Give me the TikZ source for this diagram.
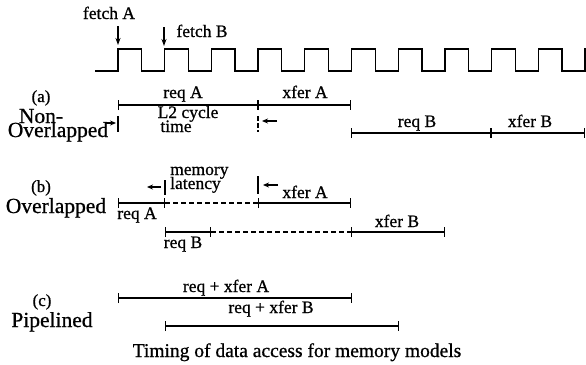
\documentclass[tikz,border=0pt]{standalone}
\usepackage{fontspec}
\setmainfont{Liberation Serif}[FakeBold=0.8]
\usetikzlibrary{arrows.meta}
\begin{document}
\begin{tikzpicture}[x=1pt,y=-1pt,
  lbl/.style={inner sep=0pt,anchor=base,font=\fontsize{17.5}{20}\selectfont},
  rowlbl/.style={inner sep=0pt,anchor=base,font=\fontsize{21.5}{24}\selectfont},
  tag/.style={inner sep=0pt,anchor=base,font=\fontsize{17}{20}\selectfont},
  seg/.style={line width=1.2pt,{Bar[width=10pt,line width=1.3pt]}-{Bar[width=10pt,line width=1.3pt]}},
  dseg/.style={line width=1.2pt,dash pattern=on 5pt off 3pt},
  tick/.style={line width=1.3pt},
  dimarrow/.style={line width=1.2pt,-{Stealth[length=6pt,width=5pt]}},
  clk/.style={line width=1.3pt,line join=miter},
  fetcharrow/.style={line width=1.1pt,-{Stealth[length=7pt,width=5pt]}}]
\useasboundingbox (0,0) rectangle (586,364);

% clock waveform
\draw[clk] (95,71)
  \foreach \k in {0,...,9} { -- ({118+46.7*\k},71) -- ({118+46.7*\k},49) -- ({141.7+46.7*\k},49) -- ({141.7+46.7*\k},71) }
  -- (585,71) -- (585,49) -- (586,49);

% fetch markers
\node[lbl] (fetchA) at (109,19) {fetch A};
\node[lbl] (fetchB) at (202,37) {fetch B};
\coordinate (fAs) at (118,26);
\coordinate (fAe) at (118,45);
\coordinate (fBs) at (164,27);
\coordinate (fBe) at (164,46);
\draw[fetcharrow] (fAs) -- (fAe);
\draw[fetcharrow] (fBs) -- (fBe);

% (a) Non-overlapped
\node[tag] (taga) at (41,102) {(a)};
\node[rowlbl] (non) at (41,123) {Non-};
\node[rowlbl] (ovla) at (58,137) {Overlapped};
\coordinate (a1) at (118,105);
\coordinate (a2) at (258,105);
\coordinate (a3) at (351,105);
\coordinate (a4) at (351,133);
\coordinate (a5) at (491,133);
\coordinate (a6) at (585,133);
\draw[seg] (a1) -- (a2);
\draw[seg] (a2) -- (a3);
\draw[seg] (a4) -- (a5);
\draw[seg] (a5) -- (a6);
\node[lbl] (reqA) at (183,98) {req A};
\node[lbl] (xferA) at (305,98) {xfer A};
\node[lbl] (reqB) at (417,127) {req B};
\node[lbl] (xferB) at (530,127) {xfer B};
\node[lbl] (l2) at (188,118) {L2 cycle};
\node[lbl] (l2t) at (176,132) {time};
% dimension marks (a)
\coordinate (dat1) at (118,116);
\coordinate (dab1) at (118,132);
\coordinate (dat2) at (258,116);
\coordinate (dab2) at (258,132);
\coordinate (daa1) at (106,123);
\coordinate (daa1e) at (116,123);
\coordinate (daa2) at (277,121);
\coordinate (daa2e) at (262,121);
\draw[tick] (dat1) -- (dab1);
\draw[tick,dash pattern=on 5pt off 2pt] (dat2) -- (dab2);
\draw[dimarrow] (daa1) -- (daa1e);
\draw[dimarrow] (daa2) -- (daa2e);

% (b) Overlapped
\node[tag] (tagb) at (41,192) {(b)};
\node[rowlbl] (ovlb) at (56,213) {Overlapped};
\coordinate (b1) at (118,203);
\coordinate (b2) at (165,203);
\coordinate (b3) at (258,203);
\coordinate (b4) at (351,203);
\coordinate (b5) at (165,232);
\coordinate (b6) at (211,232);
\coordinate (b7) at (351,232);
\coordinate (b8) at (445,232);
\draw[seg] (b1) -- (b2);
\draw[dseg] (b2) -- (b3);
\draw[seg] (b3) -- (b4);
\draw[seg] (b5) -- (b6);
\draw[dseg] (b6) -- (b7);
\draw[seg] (b7) -- (b8);
\node[lbl] (reqAb) at (137,219) {req A};
\node[lbl] (reqBb) at (183,248) {req B};
\node[lbl] (xferAb) at (305,198) {xfer A};
\node[lbl] (xferBb) at (397,227) {xfer B};
\node[lbl,anchor=base west] (mem) at (170,175) {memory};
\node[lbl,anchor=base west] (lat) at (170,189) {latency};
% dimension marks (b)
\coordinate (dbt1) at (165,180);
\coordinate (dbb1) at (165,195);
\coordinate (dbt2) at (258,176);
\coordinate (dbb2) at (258,194);
\coordinate (dba1) at (161,187);
\coordinate (dba1e) at (147,187);
\coordinate (dba2) at (278,185);
\coordinate (dba2e) at (263,185);
\draw[tick] (dbt1) -- (dbb1);
\draw[tick] (dbt2) -- (dbb2);
\draw[dimarrow] (dba1) -- (dba1e);
\draw[dimarrow] (dba2) -- (dba2e);

% (c) Pipelined
\node[tag] (tagc) at (42,306) {(c)};
\node[rowlbl] (pipe) at (52,327) {Pipelined};
\coordinate (c1) at (118,298);
\coordinate (c2) at (352,298);
\coordinate (c3) at (165,326);
\coordinate (c4) at (399,326);
\draw[seg] (c1) -- (c2);
\draw[seg] (c3) -- (c4);
\node[lbl] (rxA) at (226,292) {req + xfer A};
\node[lbl] (rxB) at (271,313) {req + xfer B};

% caption
\node[inner sep=0pt,anchor=base,font=\fontsize{19.5}{22}\selectfont] (cap) at (297,357) {Timing of data access for memory models};
\end{tikzpicture}
\end{document}
